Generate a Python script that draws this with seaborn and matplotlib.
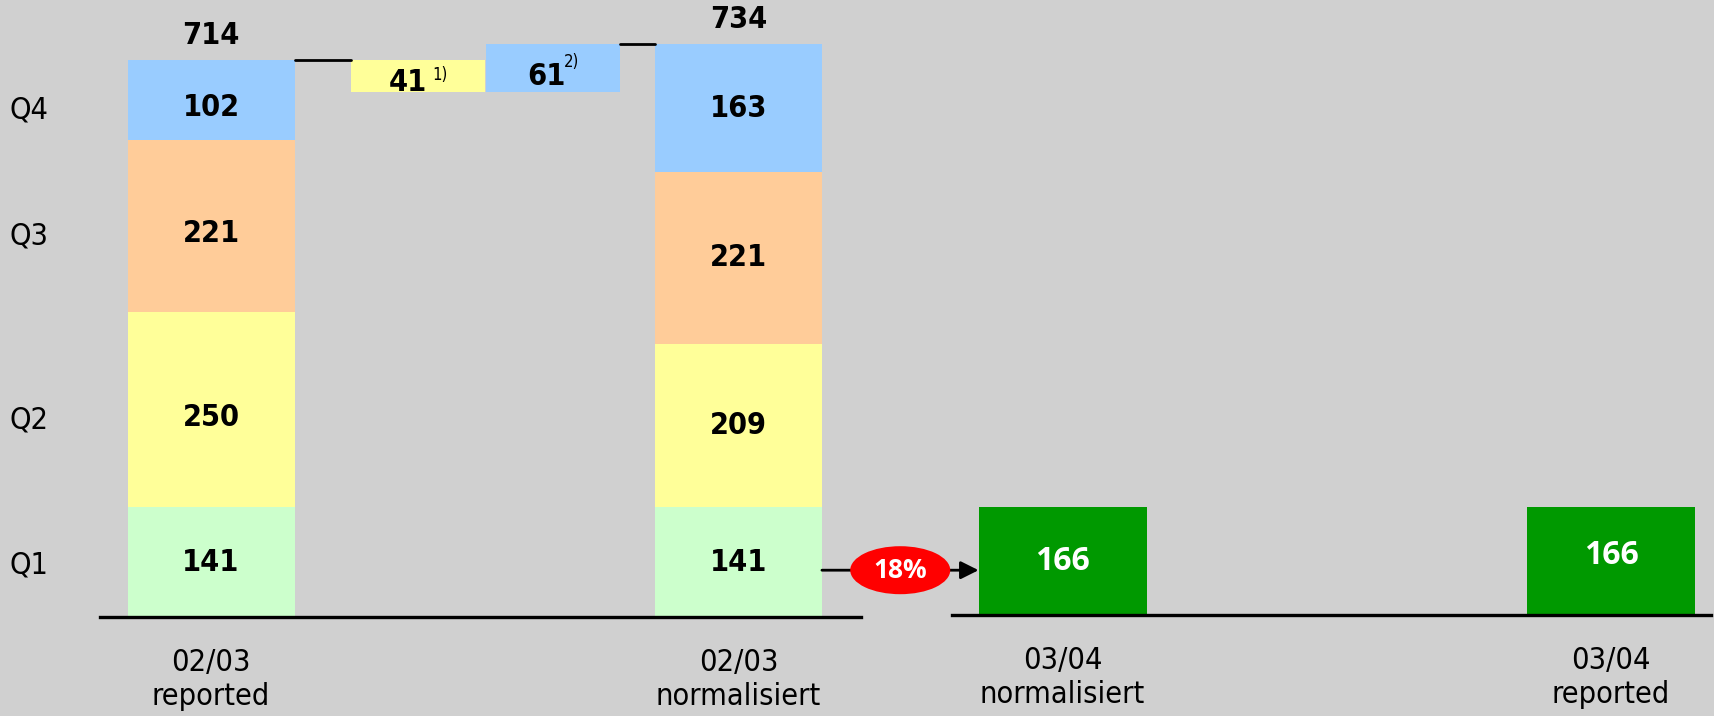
import numpy as np
import pandas as pd
import matplotlib
matplotlib.use("Agg")
import matplotlib.pyplot as plt
from matplotlib.patches import Ellipse, FancyArrowPatch
import seaborn as sns

# ---------------------------
# Data
# ---------------------------
quarters = ["Q1", "Q2", "Q3", "Q4"]
reported_0203 = [141, 250, 221, 102]
normalised_0203 = [141, 209, 221, 163]
adjust_values = [41, 61]            # Q2 taken out, Q4 added
adjust_notes = ["1)", "2)"]
q1_0304 = [166, 166]
labels_left = ["02/03\nreported", "02/03\nnormalisiert"]
labels_right = ["03/04\nnormalisiert", "03/04\nreported"]
growth_label = "18%"

# ---------------------------
# Style
# ---------------------------
BG = "#D0D0D0"
q_colors = ["#CCFFCC", "#FFFF99", "#FFCC99", "#99CCFF"]
GREEN = "#009900"
sns.set_theme(style="white", rc={"figure.facecolor": BG, "axes.facecolor": BG,
                                 "text.color": "black", "xtick.color": "black",
                                 "ytick.color": "black", "axes.labelcolor": "black"})
plt.rcParams["font.family"] = ["DejaVu Sans"]
plt.rcParams["font.stretch"] = "condensed"
WIDE = ["Open Sans", "DejaVu Sans"]

fig = plt.figure(figsize=(17.14, 7.16), dpi=100)
ax1 = fig.add_axes([100 / 1714, 99 / 716, 761 / 1714, 617 / 716])
ax2 = fig.add_axes([952 / 1714, 101 / 716, 759 / 1714, 615 / 716])

pos_main = [0, 3.158]
pos_adj = [1.239, 2.048]
adj_w = 0.8
pos_right = [0, 3.265]

# ---------------------------
# Left: stacked bars (tallest cumulative first)
# ---------------------------
df = pd.DataFrame({
    "pos": np.repeat(pos_main, 4),
    "quarter": quarters * 2,
    "value": reported_0203 + normalised_0203,
})
df["top"] = df.groupby("pos")["value"].cumsum()
df["mid"] = df["top"] - df["value"] / 2

sns.barplot(data=df, x="pos", y="top", hue="quarter", hue_order=quarters[::-1],
            palette=dict(zip(quarters, q_colors)), native_scale=True, dodge=False,
            width=1 / (pos_main[1] - pos_main[0]), saturation=1, errorbar=None,
            linewidth=0, legend=False, ax=ax1)

# labels in the first bar sit a bit low, the quarter names follow them
shift_rep = [0, -5.5, -5.5, -5.5]
for i, (_, r) in enumerate(df.iterrows()):
    dy = shift_rep[i] if i < 4 else 0
    ax1.annotate(str(r["value"]), (r["pos"], r["mid"]), xytext=(0, dy),
                 textcoords="offset points", ha="center", va="center",
                 fontsize=22, fontweight="bold")

totals = [sum(reported_0203), sum(normalised_0203)]
for p, t in zip(pos_main, totals):
    ax1.annotate(str(t), (p, t), xytext=(0, 18), textcoords="offset points",
                 ha="center", va="center", fontsize=22, fontweight="bold")

# waterfall adjustments
adj_bottom = totals[0] - adjust_values[0]
ax1.bar(pos_adj, adjust_values, bottom=adj_bottom, width=adj_w,
        color=[q_colors[1], q_colors[3]], linewidth=0)
label_y = adj_bottom + adjust_values[0] / 2
for p, v, n, dx, dy, nx, ny in zip(pos_adj, adjust_values, adjust_notes,
                                   [-7, -5], [-5, 0], [10, 8], [1, 10]):
    ax1.annotate(str(v), (p, label_y), xytext=(dx, dy), textcoords="offset points",
                 ha="center", va="center", fontsize=22, fontweight="bold")
    ax1.annotate(n, (p, label_y), xytext=(nx, ny), textcoords="offset points",
                 ha="left", va="center", fontsize=12)

ax1.plot([pos_main[0] + 0.5, pos_adj[0] - adj_w / 2], [totals[0]] * 2, color="black", lw=2)
ax1.plot([pos_adj[1] + adj_w / 2, pos_main[1] - 0.5], [totals[1]] * 2, color="black", lw=2)

ax1.set_xlim(-0.665, 3.892)
ax1.set_ylim(0, 791)

# quarter labels on the left
rep_mid = df.loc[df["pos"] == pos_main[0], "mid"].to_numpy()
ax1.set_yticks(rep_mid + np.array(shift_rep) / 0.78 * 100 / 72, quarters)
ax1.tick_params(axis="y", length=0, pad=37, labelsize=22)

# ---------------------------
# Right: Q1 03/04
# ---------------------------
df_r = pd.DataFrame({"pos": pos_right, "value": q1_0304})
sns.barplot(data=df_r, x="pos", y="value", native_scale=True,
            width=1 / (pos_right[1] - pos_right[0]), color=GREEN, saturation=1,
            errorbar=None, linewidth=0, ax=ax2)
for p, v, dy in zip(pos_right, q1_0304, [0, 4]):
    ax2.annotate(str(v), (p, v / 2), xytext=(0, dy), textcoords="offset points",
                 ha="center", va="center", fontsize=23, fontweight="bold",
                 color="white", family=WIDE, fontstretch="normal")
ax2.set_xlim(-0.658, 3.86)
ax2.set_ylim(0, 946)
ax2.set_yticks([])

for ax, pos, labs in [(ax1, pos_main, labels_left), (ax2, pos_right, labels_right)]:
    ax.set_xticks(pos, labs)
    ax.tick_params(axis="x", length=0, pad=22, labelsize=22)
    for t in ax.get_xticklabels():
        t.set_linespacing(1.25)
    ax.set_xlabel("")
    ax.set_ylabel("")
    for s in ["top", "right", "left"]:
        ax.spines[s].set_visible(False)
    ax.spines["bottom"].set_color("black")
    ax.spines["bottom"].set_linewidth(2.4)

# ---------------------------
# Growth arrow with ellipse
# ---------------------------
to_fig = fig.transFigure.inverted()
x0, y0 = to_fig.transform(ax1.transData.transform((pos_main[1] + 0.5, 60)))
x1, _ = to_fig.transform(ax2.transData.transform((pos_right[0] - 0.5, 0)))
fig.add_artist(FancyArrowPatch(
    (x0, y0), (x1, y0), transform=fig.transFigure, arrowstyle="-|>",
    mutation_scale=27, color="black", lw=2, shrinkA=0, shrinkB=0))
fig.add_artist(Ellipse(((x0 + x1) / 2, y0), 100 / 1714, 48 / 716,
                       transform=fig.transFigure, facecolor="#FF0000", edgecolor="none"))
fig.text((x0 + x1) / 2, y0, growth_label, ha="center", va="center", color="white",
         fontsize=19, fontweight="bold", family=WIDE, fontstretch="normal")

fig.savefig("out.png", dpi=100, facecolor=BG)
